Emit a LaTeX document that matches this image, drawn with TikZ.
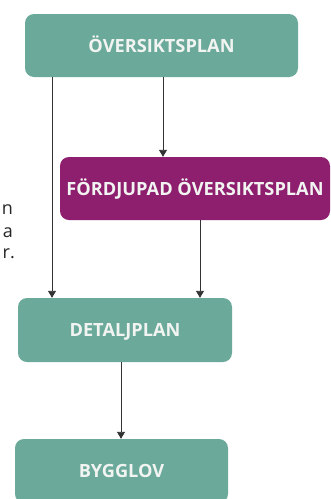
\documentclass[tikz,border=0pt]{standalone}
\usepackage{fontspec}
\setmainfont{Open Sans}
\usetikzlibrary{arrows.meta}
\definecolor{teal1}{HTML}{6BAA9B}
\definecolor{purp1}{HTML}{8E1F6F}
\definecolor{linec}{HTML}{333333}
\definecolor{boxtext}{HTML}{F2F4F2}
\tikzset{
  box/.style={rounded corners=9pt, inner sep=0pt, text height=13pt, text depth=0pt,
    text=boxtext, font=\fontsize{18.2}{18.2}\selectfont\bfseries},
  tealbox/.style={box, fill=teal1},
  purpbox/.style={box, fill=purp1},
  arr/.style={draw=linec, line width=0.9pt, -{Triangle[length=7pt,width=8pt]}},
  frag/.style={anchor=base east, inner sep=0pt, text=black!85, font=\fontsize{18}{22}\selectfont}
}
\begin{document}
\begin{tikzpicture}[x=1pt,y=-1pt]
\useasboundingbox (0,0) rectangle (331,499);
\fill[white] (0,0) rectangle (331,499);
\node[tealbox, minimum width=273pt, minimum height=63pt] (b1) at (161.5,45.5) {ÖVERSIKTSPLAN};
\node[purpbox, minimum width=270pt, minimum height=63pt] (b2) at (195,188.5) {FÖRDJUPAD ÖVERSIKTSPLAN};
\node[tealbox, minimum width=214pt, minimum height=64pt] (b3) at (125,330) {DETALJPLAN};
\node[tealbox, minimum width=213pt, minimum height=64pt] (b4) at (121.5,471) {BYGGLOV};
\coordinate (xa) at (163,0);
\coordinate (xb) at (52,0);
\coordinate (xc) at (200,0);
\coordinate (xd) at (121,0);
\draw[arr] (b1.south -| xa) -- (b2.north -| xa);
\draw[arr] (b1.south -| xb) -- (b3.north -| xb);
\draw[arr] (b2.south -| xc) -- (b3.north -| xc);
\draw[arr] (b3.south -| xd) -- (b4.north -| xd);
\node[frag] (f1) at (13,214) {n};
\node[frag] (f2) at (13,237) {a};
\node[frag] (f3) at (15,258) {r.};
\end{tikzpicture}
\end{document}
